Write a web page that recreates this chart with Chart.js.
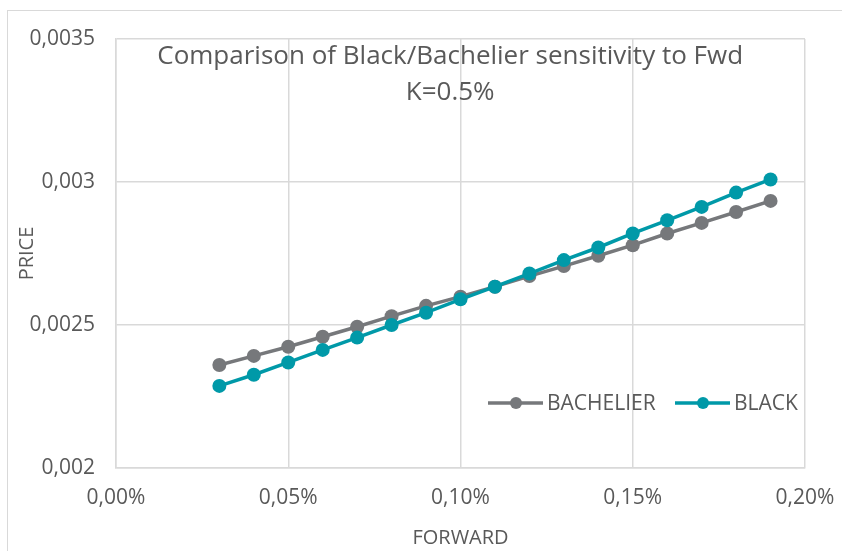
<!DOCTYPE html>
<html>
<head>
<meta charset="utf-8">
<script src="https://cdn.jsdelivr.net/npm/chart.js@4"></script>
<style>
  html, body { margin: 0; padding: 0; background: #fff; overflow: hidden; }
  #frame { position: absolute; left: 7px; top: 10px; width: 900px; height: 600px; border: 1.5px solid #d9d9d9; }
  #chart { position: absolute; left: 0; top: 0; }
</style>
</head>
<body>
<div id="frame"></div>
<canvas id="chart" width="842" height="551"></canvas>
<script>
// Data
const forward = [0.0003, 0.0004, 0.0005, 0.0006, 0.0007, 0.0008, 0.0009, 0.0010, 0.0011,
                 0.0012, 0.0013, 0.0014, 0.0015, 0.0016, 0.0017, 0.0018, 0.0019];
const bachelier = [0.002360, 0.002392, 0.002424, 0.002459, 0.002494, 0.002531, 0.002567, 0.002599, 0.002634,
                   0.002671, 0.002706, 0.002742, 0.002779, 0.002820, 0.002857, 0.002895, 0.002934];
const black = [0.002287, 0.002326, 0.002369, 0.002413, 0.002456, 0.002500, 0.002543, 0.002590, 0.002634,
               0.002680, 0.002727, 0.002771, 0.002820, 0.002866, 0.002913, 0.002963, 0.003009];
const xTickLabels = ['0,00%', '0,05%', '0,10%', '0,15%', '0,20%'];
const yTickLabels = ['0,002', '0,0025', '0,003', '0,0035'];
const seriesNames = ['BACHELIER', 'BLACK'];
const titleLines = ['Comparison of Black/Bachelier sensitivity to Fwd', 'K=0.5%'];

const GREY = '#76787b';
const TEAL = '#0099a8';
const TEXT = '#595959';
const GRID = '#d9d9d9';
const FONT = "'Open Sans', sans-serif";

function toPoints(ys) {
  return forward.map((x, i) => ({ x: x, y: ys[i] }));
}

// title and legend sit inside the plot area, like the Excel original
const overlay = {
  id: 'overlay',
  afterDatasetsDraw(chart) {
    const ctx = chart.ctx;
    const area = chart.chartArea;
    ctx.save();
    ctx.fillStyle = TEXT;
    ctx.textAlign = 'center';
    ctx.textBaseline = 'middle';
    ctx.font = '26px ' + FONT;
    const cx = area.left + (area.right - area.left) * 0.485;
    ctx.fillText(titleLines[0], cx, area.top + 18);
    ctx.fillText(titleLines[1], cx, area.top + 54);

    // legend
    const items = [
      { name: seriesNames[0], color: GREY, x: 488 },
      { name: seriesNames[1], color: TEAL, x: 675 }
    ];
    const ly = 403;
    ctx.font = '21px ' + FONT;
    ctx.textAlign = 'left';
    items.forEach(it => {
      ctx.strokeStyle = it.color;
      ctx.lineWidth = 3.5;
      ctx.beginPath();
      ctx.moveTo(it.x, ly);
      ctx.lineTo(it.x + 55, ly);
      ctx.stroke();
      ctx.fillStyle = it.color;
      ctx.beginPath();
      ctx.arc(it.x + 28, ly, 6, 0, Math.PI * 2);
      ctx.fill();
      ctx.fillStyle = TEXT;
      ctx.fillText(it.name, it.x + 59, ly + 1);
    });
    ctx.restore();
  }
};

new Chart(document.getElementById('chart'), {
  type: 'line',
  data: {
    datasets: [
      {
        label: seriesNames[0],
        data: toPoints(bachelier),
        borderColor: GREY,
        backgroundColor: GREY,
        borderWidth: 3.5,
        pointRadius: 7,
        pointHoverRadius: 7,
        pointBorderWidth: 0,
        order: 1
      },
      {
        label: seriesNames[1],
        data: toPoints(black),
        borderColor: TEAL,
        backgroundColor: TEAL,
        borderWidth: 3.5,
        pointRadius: 7,
        pointHoverRadius: 7,
        pointBorderWidth: 0,
        order: 0
      }
    ]
  },
  options: {
    responsive: false,
    animation: false,
    layout: { padding: { left: 0, right: 37, top: 39, bottom: 0 } },
    plugins: {
      legend: { display: false },
      title: { display: false },
      tooltip: { enabled: false }
    },
    scales: {
      x: {
        type: 'linear',
        min: 0,
        max: 0.002,
        afterFit(scale) {
          scale.height = 83;
          scale.paddingLeft = 0;
          scale.paddingRight = 0;
        },
        afterBuildTicks(scale) {
          scale.ticks = xTickLabels.map((t, i) => ({ value: i * 0.0005 }));
        },
        ticks: {
          color: TEXT,
          font: { family: FONT, size: 21 },
          padding: 17,
          maxRotation: 0,
          callback: (v, i) => xTickLabels[i]
        },
        grid: { color: GRID, lineWidth: 1.5, drawTicks: false },
        border: { color: GRID, width: 1.5 },
        title: {
          display: true,
          text: 'FORWARD',
          color: TEXT,
          font: { family: FONT, size: 20 },
          padding: { top: 0, bottom: 1 }
        }
      },
      y: {
        min: 0.002,
        max: 0.0035,
        afterFit(scale) { scale.width = 116; },
        afterBuildTicks(scale) {
          scale.ticks = yTickLabels.map((t, i) => ({ value: 0.002 + i * 0.0005 }));
        },
        ticks: {
          color: TEXT,
          font: { family: FONT, size: 21 },
          padding: 21,
          callback: (v, i) => yTickLabels[i]
        },
        grid: { color: GRID, lineWidth: 1.5, drawTicks: false },
        border: { color: GRID, width: 1.5 },
        title: {
          display: true,
          text: 'PRICE',
          color: TEXT,
          font: { family: FONT, size: 20 },
          padding: { top: 15, bottom: 0 }
        }
      }
    }
  },
  plugins: [overlay]
});
</script>
</body>
</html>
